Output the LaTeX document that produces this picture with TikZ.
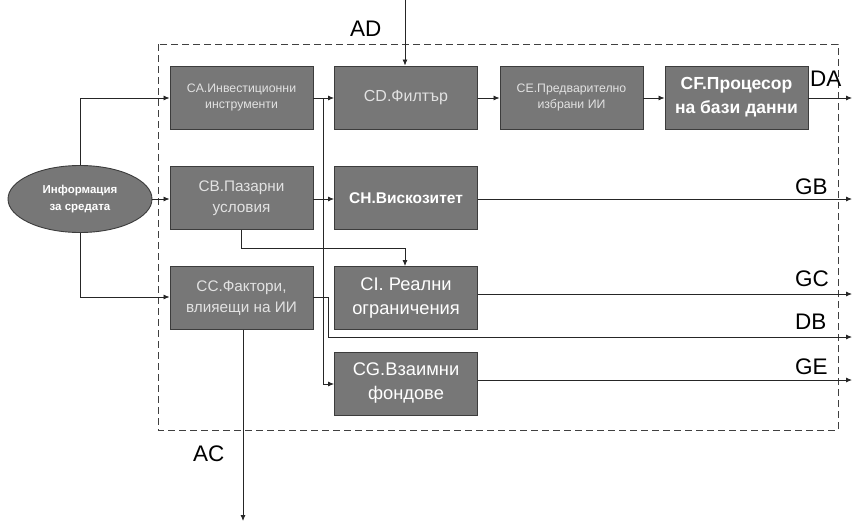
\documentclass[tikz,border=0pt]{standalone}
\usepackage{fontspec}
\setmainfont{Liberation Sans}
\usetikzlibrary{arrows.meta,shapes.geometric}
\definecolor{boxfill}{HTML}{777777}
\definecolor{boxline}{HTML}{3C3C3C}
\definecolor{paletext}{HTML}{E2E2E2}
\begin{document}
\begin{tikzpicture}[x=1pt,y=-1pt,
  blk/.style={draw=boxline,line width=0.9pt,fill=boxfill,minimum width=143pt,minimum height=63pt,
    align=center,inner sep=1pt,text=paletext},
  ell/.style={ellipse,draw=boxline,line width=0.9pt,fill=boxfill,minimum width=144pt,minimum height=67pt,
    align=center,inner sep=0pt,text=white},
  conn/.style={line width=0.8pt,draw=black!85},
  arr/.style={conn,-{Latex[length=6pt,width=5pt]}},
  lbl/.style={font=\fontsize{22.5}{24}\selectfont,inner sep=0pt},
  tiny/.style={font=\fontsize{12.3}{16}\selectfont},
  mid/.style={font=\fontsize{15.3}{21}\selectfont},
  big/.style={font=\fontsize{18.3}{24}\selectfont,text=white}
]
\useasboundingbox (0,0) rectangle (853,525);

% dashed system boundary
\draw[dashed,dash pattern=on 7pt off 4pt,draw=black!75,line width=0.8pt] (158,44) rectangle (838,430);

% blocks
\node[blk,tiny] (CA) at (241.5,97.5) {CA.Инвестиционни\\инструменти};
\node[blk,mid,font=\fontsize{16}{19}\selectfont]  (CD) at (406,97.5) {CD.Филтър};
\node[blk,tiny] (CE) at (571.5,97.5) {CE.Предварително\\избрани ИИ};
\node[blk,font=\fontsize{17.5}{24}\selectfont\bfseries,text=white] (CF) at (736.5,97.5) {CF.Процесор\\на бази данни};
\node[blk,mid]  (CB) at (241.5,198) {CB.Пазарни\\условия};
\node[blk,font=\fontsize{15.5}{18}\selectfont\bfseries,text=white] (CH) at (406,198) {CH.Вискозитет};
\node[blk,mid]  (CC) at (241.5,298) {CC.Фактори,\\влияещи на ИИ};
\node[blk,big] (CI) at (406,298) {CI. Реални\\ограничения};
\node[blk,big] (CG) at (406,383.5) {CG.Взаимни\\фондове};
\node[ell,font=\fontsize{11.5}{17}\selectfont\bfseries] (ENV) at (80,199) {Информация\\за средата};

% free ends
\coordinate (adtop) at (405,0);
\coordinate (acend) at (243,521);
\coordinate (daend) at (852,98);
\coordinate (gbend) at (852,199);
\coordinate (gcend) at (852,294);
\coordinate (dbend) at (852,337);
\coordinate (geend) at (852,380);
\coordinate (split) at (323.5,98);

% environment inputs
\draw[arr] (ENV.north) |- (CA.west|-0,98);
\draw[arr] (ENV.east) -- (CB.west|-ENV.east);
\draw[arr] (ENV.south) |- (CC.west|-0,297);

% top chain
\draw[arr] (adtop) -- (CD.north-|adtop);
\draw[arr] (CA.east|-split) -- (CD.west|-split);
\draw[arr] (split) |- (CG.west|-0,384);
\draw[arr] (CD.east|-split) -- (CE.west|-split);
\draw[arr] (CE.east|-split) -- (CF.west|-split);
\draw[arr] (CF.east|-daend) -- (daend);

% middle
\draw[arr] (CB.east|-0,199) -- (CH.west|-0,199);
\draw[arr] (CH.east|-gbend) -- (gbend);
\draw[arr] (CB.south-|241,0) |- (405,248) -- (CI.north-|405,0);
\draw[arr] (CI.east|-gcend) -- (gcend);
\draw[arr] (CC.east|-0,297) -| (328,337) -- (dbend);
\draw[arr] (CG.east|-geend) -- (geend);
\draw[arr] (CC.south-|acend) -- (acend);

% signal labels
\node[lbl,anchor=base west] (lAD) at (350,36) {AD};
\node[lbl,anchor=base west] (lDA) at (810,86) {DA};
\node[lbl,anchor=base west] (lGB) at (795,194) {GB};
\node[lbl,anchor=base west] (lGC) at (795,286) {GC};
\node[lbl,anchor=base west] (lDB) at (795,329) {DB};
\node[lbl,anchor=base west] (lGE) at (795,374) {GE};
\node[lbl,anchor=base west] (lAC) at (193,461) {AC};
\end{tikzpicture}
\end{document}
